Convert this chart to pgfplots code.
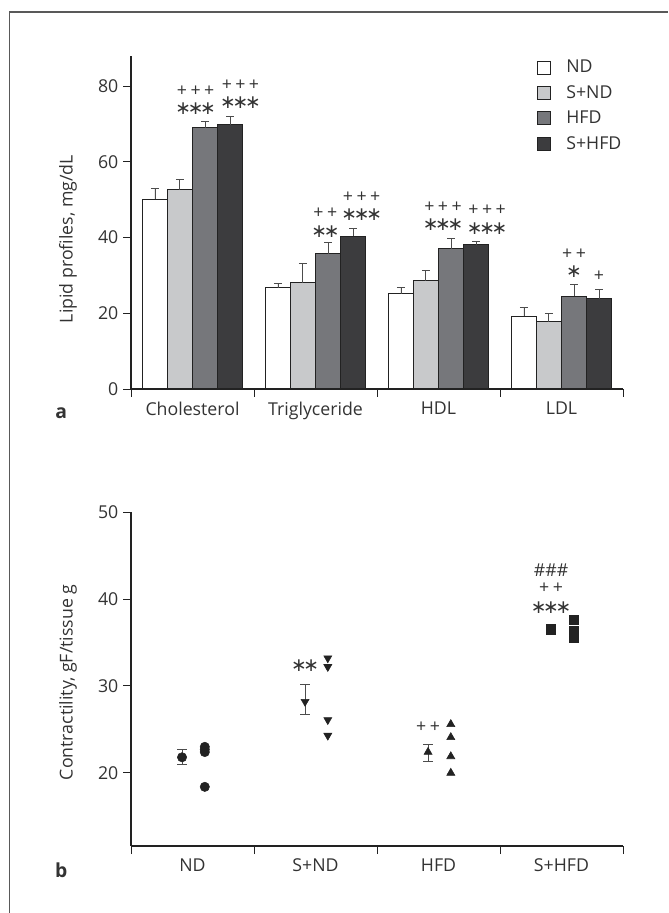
\documentclass[border=0pt]{standalone}
\usepackage{pgfplots}
\pgfplotsset{compat=1.18}
\usepackage{fontspec}
\setmainfont{Open Sans}
\newfontfamily\symfont{DejaVu Sans}

\definecolor{cSND}{HTML}{C8C9CB}
\definecolor{cHFD}{HTML}{76777B}
\definecolor{cSHFD}{HTML}{3C3C3E}
\definecolor{ink}{HTML}{222222}
\definecolor{txt}{HTML}{333333}

\newcommand{\fs}{\fontsize{13.3}{16}\selectfont}
\newcommand{\pthree}{+\kern2.6pt+\kern2.6pt+}
\newcommand{\ptwo}{+\kern2.6pt+}
\newcommand{\ask}{\kern-1.2pt∗\kern-1.2pt}
\newcommand{\sthree}{{\symfont\fontsize{14}{15}\selectfont \ask\ask\ask}}
\newcommand{\stwo}{{\symfont\fontsize{14}{15}\selectfont \ask\ask}}
\newcommand{\sone}{{\symfont\fontsize{14}{15}\selectfont \ask}}

\pgfplotsset{
  common/.style={
    scale only axis, width=369pt,
    xmin=-0.5, xmax=3.5,
    axis lines*=left,
    axis line style={ink, line width=0.85pt},
    tick align=outside,
    tick style={ink, line width=0.7pt},
    major tick length=6pt,
    xtick={-0.5,0.5,1.5,2.5},
    extra x ticks={3.5}, extra x tick labels={},
    x tick label style={xshift=46.125pt},
    tick label style={font=\fs, text=txt},
    label style={font=\fs, text=txt},
    /pgf/number format/assume math mode=true,
    clip=false,
  },
  bar/.style={ybar, bar width=0.203, bar shift=0pt, draw=ink, line width=0.75pt,
    /pgfplots/error bars/y dir=plus,
    /pgfplots/error bars/y explicit,
    /pgfplots/error bars/error bar style={line width=0.7pt, color=black!70},
    /pgfplots/error bars/error mark options={rotate=90, line width=0.7pt, color=black!70, mark size=3pt}},
  pts/.style={only marks, color=ink, mark size=3.5pt},
  mean/.style={pts,
    /pgfplots/error bars/y dir=both,
    /pgfplots/error bars/y explicit,
    /pgfplots/error bars/error bar style={line width=0.7pt, color=black!70},
    /pgfplots/error bars/error mark options={rotate=90, line width=0.7pt, color=black!70, mark size=3.5pt}},
}

\begin{document}
\begin{tikzpicture}
\useasboundingbox (0,0) rectangle (501pt,684.75pt);
\draw[line width=1.1pt, color=black!65] (7.1pt,0) -- (7.1pt,675.75pt) -- (501pt,675.75pt);

% panel a
\begin{axis}[common,
    at={(98.25pt,393pt)}, anchor=south west, height=249.75pt,
    ymin=0, ymax=88, ytick={0,20,40,60,80},
    xticklabels={Cholesterol,Triglyceride,HDL,LDL},
    ylabel={Lipid profiles, mg/dL},
    ylabel style={at={(axis description cs:-0.128,0.45)}, anchor=center},
    legend style={at={(axis description cs:0.825,0.996)}, anchor=north west,
      draw=none, fill=none, font=\fs, text=txt, row sep=4pt, inner sep=0pt},
    legend cell align=left,
    legend image code/.code={\path[draw=none, fill=none] (0pt,0pt) -- (19.5pt,0pt);
      \draw[#1, line width=0.75pt] (0pt,-4.9pt) rectangle (9.8pt,4.9pt);},
  ]
  \addplot[bar, fill=white] coordinates {
    (-0.305,50.1) +- (0,2.9) (0.695,26.8) +- (0,1.0) (1.695,25.2) +- (0,1.6) (2.695,19.2) +- (0,2.3)};
  \addlegendentry{ND}
  \addplot[bar, fill=cSND] coordinates {
    (-0.102,52.7) +- (0,2.7) (0.898,28.1) +- (0,5.0) (1.898,28.6) +- (0,2.6) (2.898,17.8) +- (0,2.2)};
  \addlegendentry{S+ND}
  \addplot[bar, fill=cHFD] coordinates {
    (0.102,69.0) +- (0,1.6) (1.102,35.7) +- (0,2.9) (2.102,37.0) +- (0,2.7) (3.102,24.5) +- (0,3.0)};
  \addlegendentry{HFD}
  \addplot[bar, fill=cSHFD] coordinates {
    (0.305,69.8) +- (0,2.1) (1.305,40.4) +- (0,1.9) (2.305,38.1) +- (0,1.0) (3.305,23.9) +- (0,2.5)};
  \addlegendentry{S+HFD}

  \begin{scope}[every node/.style={font=\fs, text=txt, inner sep=0pt}]
  \node at (axis cs:0.025,78.6) {\pthree};  \node at (axis cs:0.025,74.1) {\sthree};
  \node at (axis cs:0.390,80.3) {\pthree};  \node at (axis cs:0.390,75.7) {\sthree};
  \node at (axis cs:1.080,46.4) {\ptwo};    \node at (axis cs:1.080,41.7) {\stwo};
  \node at (axis cs:1.375,50.8) {\pthree};  \node at (axis cs:1.375,46.2) {\sthree};
  \node at (axis cs:2.037,48.0) {\pthree};  \node at (axis cs:2.037,43.5) {\sthree};
  \node at (axis cs:2.395,47.2) {\pthree};  \node at (axis cs:2.395,42.5) {\sthree};
  \node at (axis cs:3.102,35.6) {\ptwo};    \node at (axis cs:3.102,31.0) {\sone};
  \node at (axis cs:3.305,29.8) {+};
  \node[font=\bfseries\fontsize{14.5}{16}\selectfont] at (axis description cs:-0.142,0) [yshift=-18.5pt] {a};
  \end{scope}
\end{axis}

% panel b
\begin{axis}[common,
    at={(98.25pt,50.25pt)}, anchor=south west, height=250.5pt,
    ymin=11.6, ymax=50, ytick={20,30,40,50},
    xticklabels={ND,S+ND,HFD,S+HFD},
    ylabel={Contractility, gF/tissue g},
    ylabel style={at={(axis description cs:-0.128,0.49)}, anchor=center},
  ]
  % ND
  \addplot[mean, mark=*] coordinates {(-0.085,21.8) += (0,0.9) -= (0,0.8)};
  \addplot[pts, mark=*] coordinates {(0.1,23.0) (0.1,22.7) (0.1,22.4) (0.1,18.4)};
  % S+ND
  \addplot[mean, mark=triangle*, mark options={rotate=180}] coordinates {(0.915,28.2) += (0,2.0) -= (0,1.5)};
  \addplot[pts, mark=triangle*, mark options={rotate=180}] coordinates {(1.1,33.2) (1.1,32.2) (1.1,26.1) (1.1,24.3)};
  % HFD
  \addplot[mean, mark=triangle*] coordinates {(1.915,22.4) += (0,0.9) -= (0,1.1)};
  \addplot[pts, mark=triangle*] coordinates {(2.1,25.6) (2.1,24.1) (2.1,21.9) (2.1,20.0)};
  % S+HFD
  \addplot[mean, mark=square*] coordinates {(2.915,36.5) += (0,0.2) -= (0,0.2)};
  \addplot[pts, mark=square*] coordinates {(3.1,37.6) (3.1,36.3) (3.1,35.6)};

  \begin{scope}[every node/.style={font=\fs, text=txt, inner sep=0pt}]
  \node at (axis cs:0.915,32.3) {\stwo};
  \node at (axis cs:1.915,25.2) {\ptwo};
  \node at (axis cs:2.915,43.3) {\#\#\#};
  \node at (axis cs:2.915,41.2) {\ptwo};
  \node at (axis cs:2.915,39.0) {\sthree};
  \node[font=\bfseries\fontsize{14.5}{16}\selectfont] at (axis description cs:-0.142,0) [yshift=-18.5pt] {b};
  \end{scope}
\end{axis}
\end{tikzpicture}
\end{document}
